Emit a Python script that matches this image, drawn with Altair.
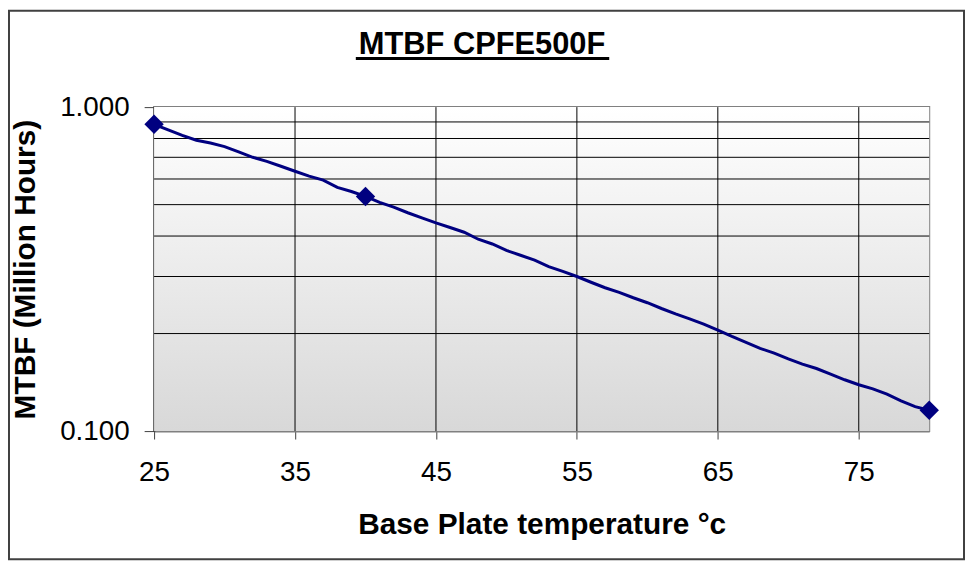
import altair as alt
import pandas as pd

# ---- data ----
temps = list(range(25, 81))
mtbf = [0.885, 0.850, 0.818, 0.790, 0.775, 0.755, 0.727, 0.700, 0.680, 0.657,
        0.634, 0.612, 0.595, 0.565, 0.549, 0.530, 0.508, 0.491, 0.472, 0.455,
        0.439, 0.425, 0.411, 0.391, 0.378, 0.361, 0.349, 0.337, 0.322, 0.311,
        0.300, 0.288, 0.277, 0.268, 0.258, 0.249, 0.239, 0.230, 0.222, 0.214,
        0.205, 0.196, 0.188, 0.180, 0.174, 0.167, 0.161, 0.156, 0.150, 0.144,
        0.139, 0.135, 0.130, 0.124, 0.119, 0.116]
marker_temps = [25, 40, 80]
marker_mtbf = [0.885, 0.530, 0.116]
x_ticks = [25, 35, 45, 55, 65, 75]
x_grid = [35, 45, 55, 65, 75]
y_ticks = [0.1, 1.0]
y_grid = [0.2, 0.3, 0.4, 0.5, 0.6, 0.7, 0.8, 0.9]
title_text = "MTBF CPFE500F"
x_title = "Base Plate temperature °c"
y_title = "MTBF (Million Hours)"

W, H = 780, 326
FONT = "Liberation Sans"
NAVY = "#000080"

df = pd.DataFrame({"t": temps, "m": mtbf})
dm = pd.DataFrame({"t": marker_temps, "m": marker_mtbf})
dgx = pd.DataFrame({"t": x_grid})
dgy = pd.DataFrame({"m": y_grid})

xs = alt.Scale(domain=[25, 80], nice=False, zero=False)
ys = alt.Scale(type="log", domain=[0.1, 1.0], nice=False)

x_enc = alt.X("t:Q", scale=xs, title=x_title,
              axis=alt.Axis(values=x_ticks, grid=False, tickSize=8, tickColor="#404040",
                            labelFontSize=28, labelFont=FONT, labelColor="black",
                            labelPadding=20, labelFlush=False, labelOverlap=False,
                            domainColor="#808080", domainWidth=2,
                            titleFontSize=30, titleFont=FONT, titleFontWeight="bold",
                            titleColor="black", titlePadding=23))
y_enc = alt.Y("m:Q", scale=ys, title=y_title,
              axis=alt.Axis(values=y_ticks, format=".3f", grid=False, tickSize=10,
                            tickColor="#404040", labelFontSize=28, labelFont=FONT,
                            labelColor="black", labelPadding=15, labelFlush=False,
                            labelOverlap=False, domainColor="#404040",
                            domainWidth=2, titleFontSize=30, titleFont=FONT,
                            titleFontWeight="bold", titleColor="black", titlePadding=19))

bg = alt.Chart(pd.DataFrame({"a": [0]})).mark_rect(
    fill=alt.Gradient(gradient="linear",
                      stops=[alt.GradientStop(color="#ffffff", offset=0),
                             alt.GradientStop(color="#d8d8d8", offset=1)],
                      x1=0, x2=0, y1=0, y2=1)
).encode(x=alt.value(0), x2=alt.value(W), y=alt.value(0), y2=alt.value(H))

vgrid = alt.Chart(dgx).mark_rule(color="#000000", strokeWidth=1).encode(
    x=alt.X("t:Q", scale=xs), y=alt.value(0), y2=alt.value(H))
hgrid = alt.Chart(dgy).mark_rule(color="#000000", strokeWidth=1).encode(
    y=alt.Y("m:Q", scale=ys), x=alt.value(0), x2=alt.value(W))

line = alt.Chart(df).mark_line(color=NAVY, strokeWidth=3).encode(x=x_enc, y=y_enc)
pts = alt.Chart(dm).mark_point(shape="diamond", filled=True, color=NAVY, size=380,
                               opacity=1).encode(x=alt.X("t:Q", scale=xs),
                                                  y=alt.Y("m:Q", scale=ys))

title = alt.Chart(pd.DataFrame({"s": [title_text]})).mark_text(
    font=FONT, fontSize=31, fontWeight="bold", color="black",
    align="center", baseline="alphabetic"
).encode(text="s:N", x=alt.value(330), y=alt.value(-53))
underline = alt.Chart(pd.DataFrame({"a": [0]})).mark_rule(
    color="black", strokeWidth=3).encode(x=alt.value(203), x2=alt.value(458),
                                          y=alt.value(-49))
border = alt.Chart(pd.DataFrame({"a": [0]})).mark_rect(
    fill=None, stroke="#404040", strokeWidth=2).encode(
    x=alt.value(-146), x2=alt.value(815), y=alt.value(-97), y2=alt.value(455))

chart = alt.layer(bg, vgrid, hgrid, line, pts, title, underline, border).properties(
    width=W, height=H,
    autosize=alt.AutoSizeParams(type="none"),
    padding={"left": 147, "top": 98, "right": 36, "bottom": 130},
    background="white",
).configure_view(stroke="#808080", strokeWidth=2)

chart.save("out.html", embed_options={"renderer": "svg", "actions": False})
